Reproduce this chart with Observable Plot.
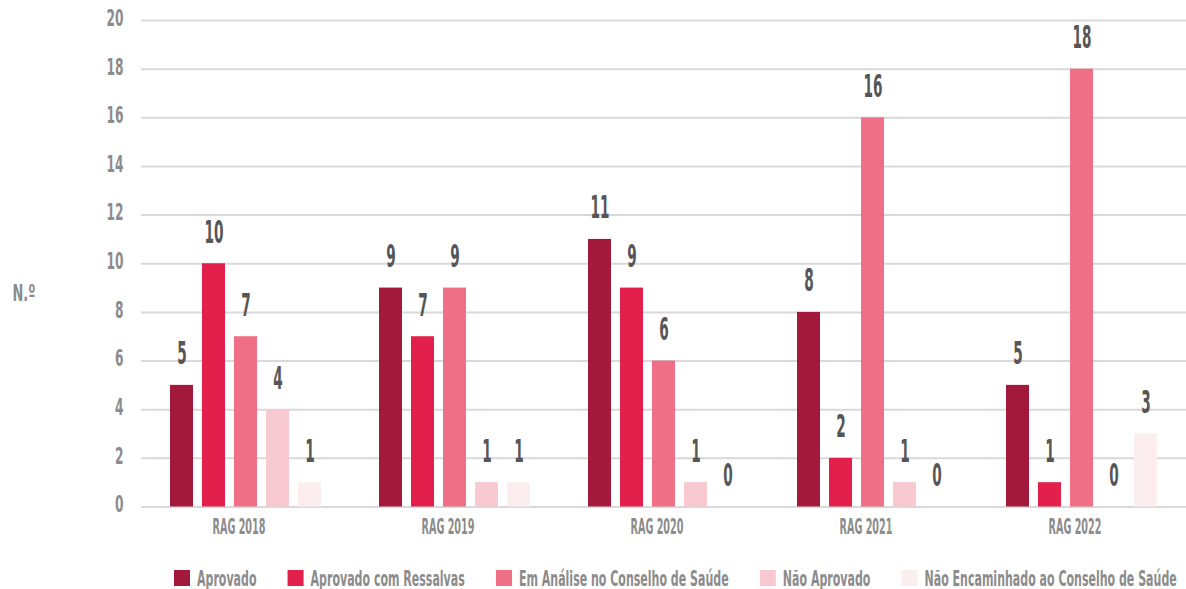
<!DOCTYPE html>
<html>
<head>
<meta charset="utf-8">
<script src="https://cdn.jsdelivr.net/npm/d3@7"></script>
<script src="https://cdn.jsdelivr.net/npm/@observablehq/plot@0.6"></script>
<style>
  html, body { margin: 0; padding: 0; background: #fff; }
  #wrap { width: 1186px; height: 589px; }
  #wrap svg { display: block; }
</style>
</head>
<body>
<div id="wrap">
  <div id="chart"></div>
  <div id="legend"></div>
</div>
<script>
const groups = ["RAG 2018", "RAG 2019", "RAG 2020", "RAG 2021", "RAG 2022"];
const series = ["Aprovado", "Aprovado com Ressalvas", "Em Análise no Conselho de Saúde", "Não Aprovado", "Não Encaminhado ao Conselho de Saúde"];
const colors = ["#a3193b", "#e31f4b", "#ee6f86", "#f8c9d0", "#fcedef"];
const aprovado = [5, 9, 11, 8, 5];
const aprovadoRessalvas = [10, 7, 9, 2, 1];
const emAnalise = [7, 9, 6, 16, 18];
const naoAprovado = [4, 1, 1, 1, 0];
const naoEncaminhado = [1, 1, 0, 0, 3];
const yTicks = [0, 2, 4, 6, 8, 10, 12, 14, 16, 18, 20];
const yLabel = "N.º";

const seriesValues = [aprovado, aprovadoRessalvas, emAnalise, naoAprovado, naoEncaminhado];
const data = [];
groups.forEach((g, gi) => {
  series.forEach((s, si) => {
    data.push({group: g, series: s, value: seriesValues[si][gi]});
  });
});

const font = '"DejaVu Sans Condensed", "DejaVu Sans", sans-serif';
const grayText = "#8c8c8c";
const valueText = "#565656";

const chart = Plot.plot({
  width: 1186,
  height: 545,
  marginLeft: 141,
  marginRight: 0,
  marginTop: 20,
  marginBottom: 38.5,
  style: {fontFamily: font, fontWeight: "bold", background: "#fff"},
  fx: {domain: groups, padding: 0, label: null},
  x: {domain: series, paddingInner: 0.28125, paddingOuter: 0.90625, axis: null},
  y: {domain: [0, 20], axis: null},
  color: {domain: series, range: colors},
  marks: [
    Plot.gridY(yTicks, {stroke: "#d9d9d9", strokeOpacity: 1, strokeWidth: 2}),
    Plot.axisY(yTicks, {anchor: "left", tickSize: 0, tickPadding: 18, fontSize: 23, fill: grayText, label: null, dy: -2}),
    Plot.axisFx({anchor: "bottom", tickSize: 0, tickPadding: 12, fontSize: 20.5, fill: grayText, label: null, dx: -7}),
    Plot.barY(data, {fx: "group", x: "series", y: "value", fill: "series"}),
    Plot.text(data, {fx: "group", x: "series", y: "value", text: d => String(d.value), lineAnchor: "bottom", dy: -21, fontSize: 31.5, fill: valueText, ariaDescription: "values"}),
    Plot.text([yLabel], {frameAnchor: "left", textAnchor: "start", dx: -129, dy: 30, fontSize: 23, fill: grayText, facet: "super", ariaDescription: "ylabel"})
  ]
});
document.getElementById("chart").appendChild(chart);

// Horizontally condense texts to mimic the narrow typeface of the reference
function squeezeBy(arr, factor) {
  arr.forEach(t => {
    const w = t.getComputedTextLength();
    t.setAttribute("textLength", (w * factor).toFixed(2));
    t.setAttribute("lengthAdjust", "spacingAndGlyphs");
  });
}
function squeeze(texts, refText, refWidth) {
  const arr = Array.from(texts);
  const ref = arr.find(t => t.textContent === refText) || arr[0];
  if (!ref) return;
  squeezeBy(arr, refWidth / ref.getComputedTextLength());
}
squeeze(chart.querySelectorAll('g[aria-label="y-axis tick label"] text'), "20", 17);
squeeze(chart.querySelectorAll('g[aria-label="fx-axis tick label"] text'), "RAG 2018", 53);
squeeze(chart.querySelectorAll('g[aria-description="values"] text'), "10", 19);
squeeze(chart.querySelectorAll('g[aria-description="ylabel"] text'), yLabel, 23);

// Legend
const leg = d3.create("svg").attr("width", 1186).attr("height", 44).style("overflow", "visible")
  .attr("font-family", font).attr("font-weight", "bold").attr("font-size", 20.5);
document.getElementById("legend").appendChild(leg.node());
const items = leg.selectAll("g").data(series).join("g");
items.append("rect").attr("width", 16).attr("height", 16).attr("y", 25).attr("fill", (d, i) => colors[i]);
const labels = items.append("text").attr("fill", grayText).text(d => d);
const legendStart = 174, legendEnd = 1177, swatchStep = 23, itemGap = 31;
const widths = labels.nodes().map(t => t.getComputedTextLength());
const available = legendEnd - legendStart - series.length * swatchStep - (series.length - 1) * itemGap;
const lf = available / d3.sum(widths);
labels.attr("transform", `translate(${swatchStep},40.5) scale(${lf},1)`);
let xpos = legendStart;
items.each(function(d, i) {
  d3.select(this).attr("transform", `translate(${xpos},0)`);
  xpos += swatchStep + widths[i] * lf + itemGap;
});
</script>
</body>
</html>
